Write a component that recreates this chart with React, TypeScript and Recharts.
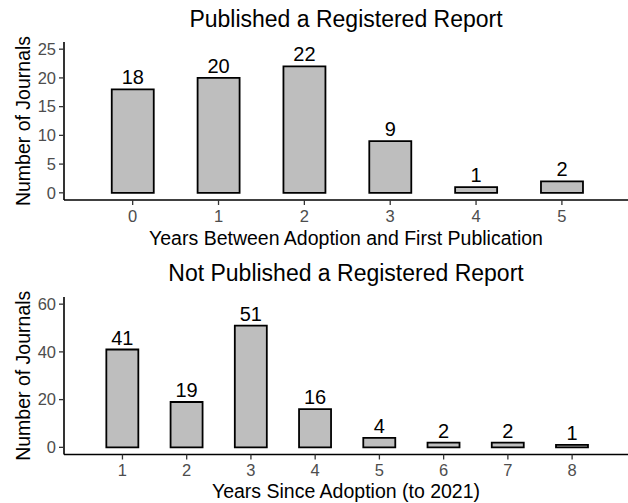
import { BarChart, Bar, XAxis, YAxis, LabelList, Label } from 'recharts'

// top panel: journals that have published a registered report
const pubYears = [0, 1, 2, 3, 4, 5]
const pubCounts = [18, 20, 22, 9, 1, 2]
const pubTicks = [0, 5, 10, 15, 20, 25]

// bottom panel: journals that have not published one yet
const notPubYears = [1, 2, 3, 4, 5, 6, 7, 8]
const notPubCounts = [41, 19, 51, 16, 4, 2, 2, 1]
const notPubTicks = [0, 20, 40, 60]

const FONT = '"Liberation Sans", Arial, sans-serif'
const tickStyle = { fontSize: 16.5, fill: '#4d4d4d', fontFamily: FONT }
const tickLine = { stroke: '#333', strokeWidth: 1.3 }
const axisLine = { stroke: '#000', strokeWidth: 1.6 }

const pubData = pubYears.map((year, i) => ({ year, count: pubCounts[i] }))
const notPubData = notPubYears.map((year, i) => ({ year, count: notPubCounts[i] }))

const YLabel = ({ viewBox }: any) => (
  <text
    x={23}
    y={viewBox.y + viewBox.height / 2}
    transform={`rotate(-90 23 ${viewBox.y + viewBox.height / 2})`}
    textAnchor="middle"
    dominantBaseline="central"
    fontSize={19.5}
    fontFamily={FONT}
    fill="#000"
  >
    Number of Journals
  </text>
)

type PanelProps = {
  data: { year: number; count: number }[]
  height: number
  top: number
  xAxisHeight: number
  xDomain: [number, number]
  xTicks: number[]
  yDomain: [number, number]
  yTicks: number[]
  barSize: number
  xLabel: string
}

const Panel = (p: PanelProps) => (
  <BarChart
    width={628}
    height={p.height}
    data={p.data}
    margin={{ top: p.top, right: 0, bottom: 0, left: 0 }}
  >
    <XAxis
      dataKey="year"
      type="number"
      domain={p.xDomain}
      ticks={p.xTicks}
      allowDataOverflow
      height={p.xAxisHeight}
      tick={tickStyle}
      tickLine={tickLine}
      axisLine={axisLine}
      tickSize={5}
      tickMargin={5}
    >
      <Label
        value={p.xLabel}
        position="insideBottom"
        offset={5}
        style={{ fontSize: 19.5, fill: '#000', fontFamily: FONT }}
      />
    </XAxis>
    <YAxis
      type="number"
      domain={p.yDomain}
      ticks={p.yTicks}
      allowDataOverflow
      width={64}
      tick={tickStyle}
      tickLine={tickLine}
      axisLine={axisLine}
      tickSize={5}
      tickMargin={3}
      label={<YLabel />}
    />
    <Bar
      dataKey="count"
      fill="#bebebe"
      stroke="#000"
      strokeWidth={1.8}
      barSize={p.barSize}
      isAnimationActive={false}
    >
      <LabelList
        dataKey="count"
        position="top"
        offset={5}
        style={{ fontSize: 20, fill: '#000', fontFamily: FONT }}
      />
    </Bar>
  </BarChart>
)

const titleStyle = (top: number) => ({
  position: 'absolute' as const,
  top,
  left: 64,
  width: 564,
  textAlign: 'center' as const,
  fontSize: 23,
  lineHeight: '23px',
  fontFamily: FONT,
  color: '#000'
})

const App = () => (
  <div
    style={{
      position: 'absolute',
      left: 0,
      top: 0,
      width: 628,
      height: 503,
      background: '#fff',
      fontFamily: FONT
    }}
  >
    <div style={titleStyle(8)}>Published a Registered Report</div>
    <div style={{ position: 'absolute', left: 0, top: 0 }}>
      <Panel
        data={pubData}
        height={250}
        top={42}
        xAxisHeight={50}
        xDomain={[-0.8, 5.77]}
        xTicks={pubYears}
        yDomain={[-1.25, 26.25]}
        yTicks={pubTicks}
        barSize={42}
        xLabel="Years Between Adoption and First Publication"
      />
    </div>
    <div style={titleStyle(262)}>Not Published a Registered Report</div>
    <div style={{ position: 'absolute', left: 0, top: 250 }}>
      <Panel
        data={notPubData}
        height={253}
        top={47}
        xAxisHeight={48.5}
        xDomain={[0.09, 8.87]}
        xTicks={notPubYears}
        yDomain={[-3, 63]}
        yTicks={notPubTicks}
        barSize={32}
        xLabel="Years Since Adoption (to 2021)"
      />
    </div>
  </div>
)

export default App
